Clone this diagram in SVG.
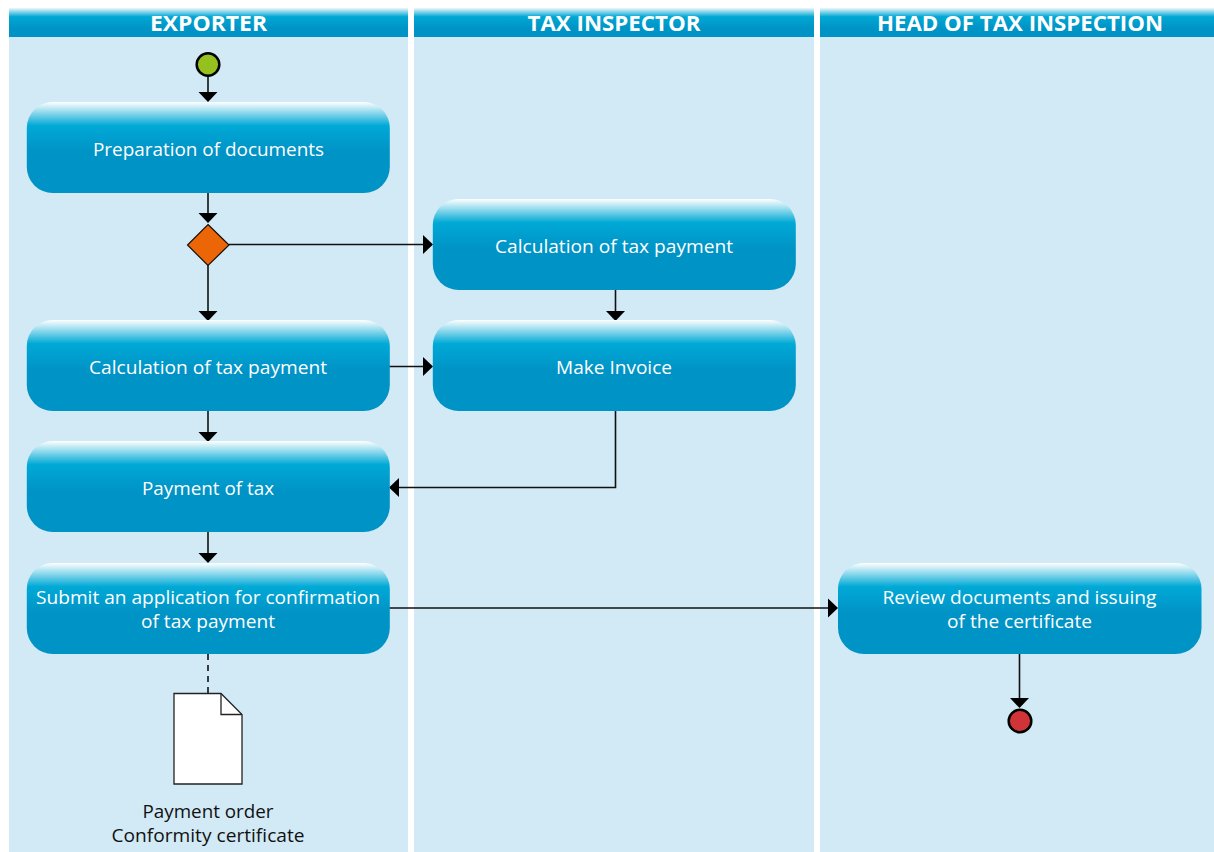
<svg xmlns="http://www.w3.org/2000/svg" width="1214" height="852" viewBox="0 0 1214 852">
<style>
.lane{fill:#d2e9f6}
.head{fill:url(#hg)}
.box{fill:url(#bg)}
.ht{font-family:"Open Sans","Noto Sans",sans-serif;font-weight:700;font-size:22px;fill:#fff;text-anchor:middle}
.bt{font-family:"Open Sans","Noto Sans",sans-serif;font-size:19px;fill:#fff;text-anchor:middle}
.dt{font-family:"Open Sans","Noto Sans",sans-serif;font-size:19px;fill:#111;text-anchor:middle}
.c{fill:none;stroke:#111;stroke-width:1.6}
.a{fill:#000}
</style>
<defs>
<linearGradient id="hg" x1="0" y1="0" x2="0" y2="1">
<stop offset="0" stop-color="#f0f8fb"/><stop offset="0.3" stop-color="#00a8d4"/><stop offset="0.7" stop-color="#0093c6"/><stop offset="1" stop-color="#0093c6"/>
</linearGradient>
<linearGradient id="bg" x1="0" y1="0" x2="0" y2="1">
<stop offset="0" stop-color="#ffffff"/><stop offset="0.26" stop-color="#00a9d6"/><stop offset="0.55" stop-color="#0093c6"/><stop offset="1" stop-color="#0093c6"/>
</linearGradient>
</defs>
<g id="lane-exporter">
<rect class="lane" x="9" y="37" width="399" height="815"/>
<rect class="head" x="9" y="8" width="399" height="29"/>
<text class="ht" x="208.500" y="30.500" textLength="117" lengthAdjust="spacingAndGlyphs">EXPORTER</text>
</g>
<g id="lane-inspector">
<rect class="lane" x="414" y="37" width="400" height="815"/>
<rect class="head" x="414" y="8" width="400" height="29"/>
<text class="ht" x="614" y="30.500" textLength="173" lengthAdjust="spacingAndGlyphs">TAX INSPECTOR</text>
</g>
<g id="lane-head">
<rect class="lane" x="820" y="37" width="394" height="815"/>
<rect class="head" x="820" y="8" width="394" height="29"/>
<text class="ht" x="1020" y="30.500" textLength="286" lengthAdjust="spacingAndGlyphs">HEAD OF TAX INSPECTION</text>
</g>
<g id="connectors">
<path class="c" d="M208 76V93"/><path class="a" d="M198.500 92h19l-9.500 10z"/>
<path class="c" d="M208 193V213"/><path class="a" d="M198.500 213h19l-9.500 10z"/>
<path class="c" d="M229 244.500H423"/><path class="a" d="M423 235v19l10-9.500z"/>
<path class="c" d="M208 265V311"/><path class="a" d="M198.500 311h19l-9.500 10z"/>
<path class="c" d="M615.500 290V311"/><path class="a" d="M606 311h19l-9.500 10z"/>
<path class="c" d="M389 366.500H423"/><path class="a" d="M423 357v19l10-9.500z"/>
<path class="c" d="M208 411V432"/><path class="a" d="M198.500 432h19l-9.500 10z"/>
<path class="c" d="M615.500 411V487.500H399"/><path class="a" d="M399 478v19l-10-9.500z"/>
<path class="c" d="M208 532V553"/><path class="a" d="M198.500 553h19l-9.500 10z"/>
<path class="c" d="M389 608H828"/><path class="a" d="M828 598.500v19l10-9.500z"/>
<path class="c" d="M1019.500 654V698"/><path class="a" d="M1010 698h19l-9.500 10z"/>
<path class="c" stroke-dasharray="6 5" d="M208 654V693"/>
</g>
<g id="start"><circle cx="208" cy="64.500" r="11.300" fill="#95c11f" stroke="#000" stroke-width="2.500"/></g>
<g id="n-prep">
<rect class="box" x="26.800" y="102" width="363" height="91" rx="26"/>
<text class="bt" x="208.500" y="155.500" textLength="231" lengthAdjust="spacingAndGlyphs">Preparation of documents</text>
</g>
<g id="decision"><path d="M208 224.500L229 245L208 265.500L187.500 245z" fill="#ec6608" stroke="#111" stroke-width="1.200"/></g>
<g id="n-calc2">
<rect class="box" x="432.800" y="199" width="363" height="91" rx="26"/>
<text class="bt" x="614" y="252.500" textLength="238" lengthAdjust="spacingAndGlyphs">Calculation of tax payment</text>
</g>
<g id="n-calc1">
<rect class="box" x="26.800" y="320" width="363" height="91" rx="26"/>
<text class="bt" x="208" y="373.500" textLength="238" lengthAdjust="spacingAndGlyphs">Calculation of tax payment</text>
</g>
<g id="n-invoice">
<rect class="box" x="432.800" y="320" width="363" height="91" rx="26"/>
<text class="bt" x="614" y="373.500" textLength="116" lengthAdjust="spacingAndGlyphs">Make Invoice</text>
</g>
<g id="n-pay">
<rect class="box" x="26.800" y="441" width="363" height="91" rx="26"/>
<text class="bt" x="208" y="494.500" textLength="132" lengthAdjust="spacingAndGlyphs">Payment of tax</text>
</g>
<g id="n-submit">
<rect class="box" x="26.800" y="563" width="363" height="91" rx="26"/>
<text class="bt" x="208" y="603.500" textLength="344" lengthAdjust="spacingAndGlyphs">Submit an application for confirmation</text>
<text class="bt" x="208" y="627.500" textLength="134" lengthAdjust="spacingAndGlyphs">of tax payment</text>
</g>
<g id="n-review">
<rect class="box" x="838" y="563" width="363.500" height="91" rx="26"/>
<text class="bt" x="1019.500" y="603.500" textLength="274" lengthAdjust="spacingAndGlyphs">Review documents and issuing</text>
<text class="bt" x="1019.500" y="627.500" textLength="145" lengthAdjust="spacingAndGlyphs">of the certificate</text>
</g>
<g id="end"><circle cx="1020" cy="721" r="11.300" fill="#d13438" stroke="#000" stroke-width="2.500"/></g>
<g id="document">
<path d="M174 693.500H221L242 714.500V784H174z" fill="#fff" stroke="#222" stroke-width="1.300"/>
<path d="M221 693.500V714.500H242" fill="none" stroke="#222" stroke-width="1.300"/>
<text class="dt" x="208" y="817.500" textLength="131" lengthAdjust="spacingAndGlyphs">Payment order</text>
<text class="dt" x="208" y="841.500" textLength="193" lengthAdjust="spacingAndGlyphs">Conformity certificate</text>
</g>
</svg>
